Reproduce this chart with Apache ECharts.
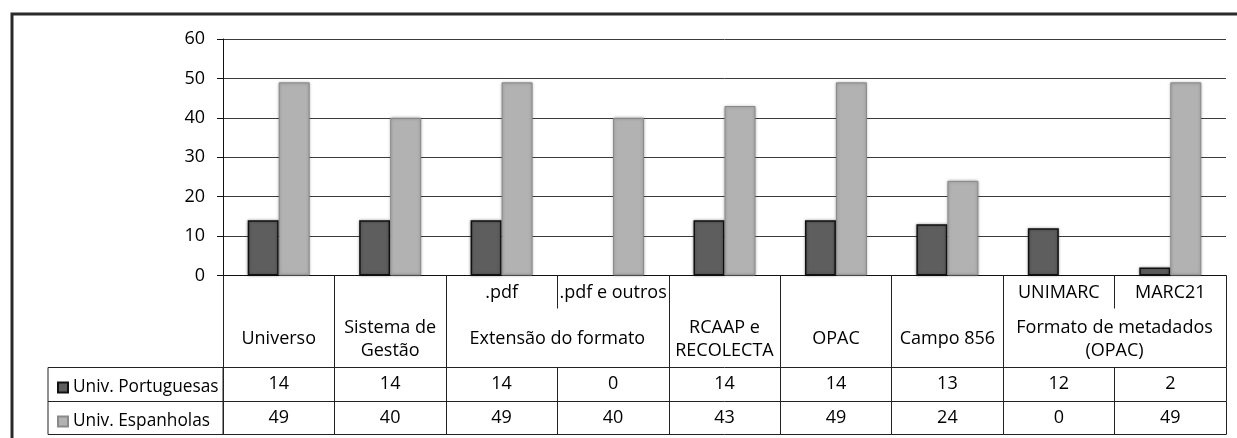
<!DOCTYPE html>
<html>
<head>
<meta charset="utf-8">
<script src="https://cdn.jsdelivr.net/npm/echarts@6/dist/echarts.min.js"></script>
<style>
  html, body { margin: 0; padding: 0; background: #fff; }
  #chart { width: 1237px; height: 438px; }
</style>
</head>
<body>
<div id="chart"></div>
<script>
// ---- data ----
const categories = ['Universo', 'Sistema de Gestão', '.pdf', '.pdf e outros', 'RCAAP e RECOLECTA', 'OPAC', 'Campo 856', 'UNIMARC', 'MARC21'];
const subLabels = ['', '', '.pdf', '.pdf e outros', '', '', '', 'UNIMARC', 'MARC21'];
const groupNames = ['Universo', 'Sistema de\nGestão', 'Extensão do formato', 'RCAAP e\nRECOLECTA', 'OPAC', 'Campo 856', 'Formato de metadados\n(OPAC)'];
const groupSpans = [1, 1, 2, 1, 1, 1, 2];
const seriesNames = ['Univ. Portuguesas', 'Univ. Espanholas'];
const portVals = [14, 14, 14, 0, 14, 14, 13, 12, 2];
const spaVals = [49, 40, 49, 40, 43, 49, 24, 0, 49];
const yMin = 0, yMax = 60, yStep = 10;

// ---- build ----
const FONT = 'Open Sans';
const FS = 18;
const TXT = '#000';

const groupLookup = {};
let acc = 0;
groupNames.forEach((n, i) => {
  const c = acc + groupSpans[i] / 2;
  groupLookup[c.toFixed(1)] = n;
  acc += groupSpans[i];
});
const hiddenBoundaries = {};
acc = 0;
groupSpans.forEach(s => { for (let k = 1; k < s; k++) hiddenBoundaries[acc + k] = true; acc += s; });

function barData(vals) {
  return vals.map(v => v === 0 ? { value: v, itemStyle: { borderWidth: 0, shadowBlur: 0 } } : v);
}

const GRID_LEFT = 223, GRID_RIGHT = 11, GRID_TOP = 39, GRID_BOTTOM = 162.5;
const BASE_Y = 438 - GRID_BOTTOM;
const ROW1 = 92, ROW2 = 126, ROW3 = 159;

const chart = echarts.init(document.getElementById('chart'), null, { renderer: 'canvas' });
const lineStyle = { color: '#222', width: 1 };

chart.setOption({
  animation: false,
  backgroundColor: '#fff',
  textStyle: { fontFamily: FONT, color: TXT },
  grid: { left: GRID_LEFT, right: GRID_RIGHT, top: GRID_TOP, bottom: GRID_BOTTOM, containLabel: false },
  legend: {
    orient: 'vertical',
    left: 52,
    top: BASE_Y + ROW1 + 6,
    itemWidth: 10,
    itemHeight: 10,
    itemGap: 16,
    icon: 'rect',
    data: seriesNames,
    textStyle: { fontFamily: FONT, fontSize: 17.3, color: TXT, lineHeight: 18 }
  },
  xAxis: [
    {
      type: 'category', data: subLabels, position: 'bottom',
      axisLine: { show: true, lineStyle: { color: '#111', width: 1 } },
      axisTick: { show: true, length: 33, lineStyle: lineStyle },
      axisLabel: { interval: 0, margin: 8, fontFamily: FONT, fontSize: FS, color: TXT }
    },
    {
      type: 'category', data: categories, position: 'bottom',
      axisLine: { show: false },
      axisTick: { show: true, length: ROW1, lineStyle: lineStyle, interval: (i) => !hiddenBoundaries[i] },
      axisLabel: { show: false }
    },
    {
      type: 'value', min: 0, max: 9, interval: 0.5, position: 'bottom',
      axisLine: { show: false }, axisTick: { show: false }, splitLine: { show: false },
      axisLabel: {
        showMinLabel: true, showMaxLabel: true,
        margin: 63.5, verticalAlign: 'middle', lineHeight: 23,
        fontFamily: FONT, fontSize: FS, color: TXT,
        formatter: (v) => groupLookup[Number(v).toFixed(1)] || ''
      }
    },
    {
      type: 'category', data: portVals.map(String), position: 'bottom', offset: ROW1,
      axisLine: { show: true, lineStyle: lineStyle },
      axisTick: { show: true, length: ROW2 - ROW1, lineStyle: lineStyle },
      axisLabel: { interval: 0, margin: 16.5, verticalAlign: 'middle', fontFamily: FONT, fontSize: FS, color: TXT }
    },
    {
      type: 'category', data: spaVals.map(String), position: 'bottom', offset: ROW2,
      axisLine: { show: true, lineStyle: lineStyle },
      axisTick: { show: true, length: ROW3 - ROW2, lineStyle: lineStyle },
      axisLabel: { interval: 0, margin: 16, verticalAlign: 'middle', fontFamily: FONT, fontSize: FS, color: TXT }
    },
    {
      type: 'category', data: categories, position: 'bottom', offset: ROW3,
      axisLine: { show: true, lineStyle: lineStyle },
      axisTick: { show: false }, axisLabel: { show: false }
    }
  ],
  yAxis: {
    type: 'value', min: yMin, max: yMax, interval: yStep,
    axisLine: { show: true, lineStyle: { color: '#111', width: 1 } },
    axisTick: { show: true, length: 6, lineStyle: { color: '#111' } },
    axisLabel: { margin: 18, fontFamily: FONT, fontSize: FS, color: TXT },
    splitLine: { show: true, lineStyle: { color: '#3c3c3c', width: 1 } }
  },
  series: [
    {
      name: seriesNames[0], type: 'bar', xAxisIndex: 0, data: barData(portVals),
      barWidth: 31, barGap: '0%',
      itemStyle: { color: '#5e5e5e', borderColor: '#111', borderWidth: 1.5, shadowBlur: 3, shadowColor: 'rgba(0,0,0,0.35)' }
    },
    {
      name: seriesNames[1], type: 'bar', xAxisIndex: 0, data: barData(spaVals),
      barWidth: 31, barGap: '0%',
      itemStyle: { color: '#b2b2b2', borderColor: '#8a8a8a', borderWidth: 1, shadowBlur: 3, shadowColor: 'rgba(0,0,0,0.3)' }
    }
  ],
  graphic: [
    { type: 'rect', shape: { x: 12, y: 14, width: 1240, height: 440 }, style: { fill: null, stroke: '#2a2a2a', lineWidth: 3 }, silent: true },
    { type: 'line', shape: { x1: 48, y1: BASE_Y + ROW1, x2: GRID_LEFT, y2: BASE_Y + ROW1 }, style: { stroke: '#222', lineWidth: 1 } },
    { type: 'line', shape: { x1: 48, y1: BASE_Y + ROW2, x2: GRID_LEFT, y2: BASE_Y + ROW2 }, style: { stroke: '#222', lineWidth: 1 } },
    { type: 'line', shape: { x1: 48, y1: BASE_Y + ROW3, x2: GRID_LEFT, y2: BASE_Y + ROW3 }, style: { stroke: '#222', lineWidth: 1 } },
    { type: 'line', shape: { x1: 48, y1: BASE_Y + ROW1, x2: 48, y2: BASE_Y + ROW3 }, style: { stroke: '#222', lineWidth: 1 } },
    { type: 'line', shape: { x1: GRID_LEFT, y1: BASE_Y + ROW1, x2: GRID_LEFT, y2: BASE_Y + ROW3 }, style: { stroke: '#222', lineWidth: 1 } }
  ]
});
</script>
</body>
</html>
